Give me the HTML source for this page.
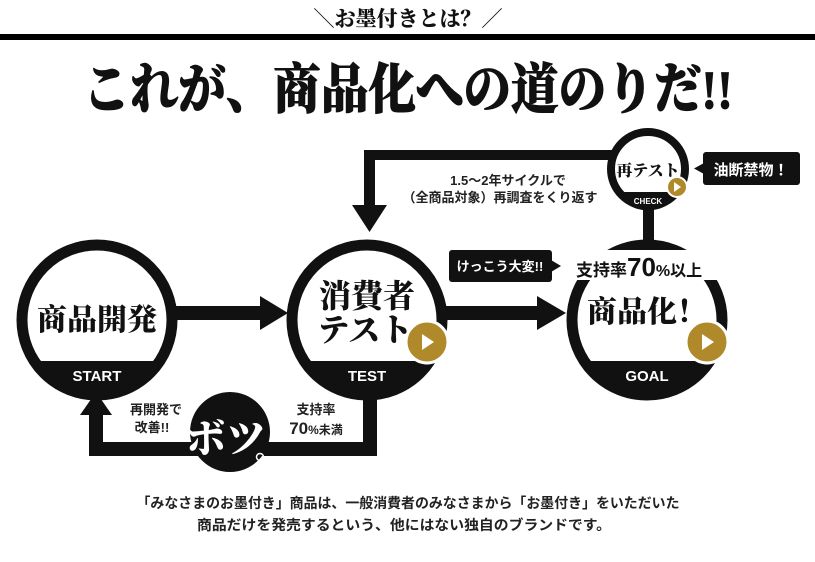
<!DOCTYPE html>
<html><head><meta charset="utf-8"><style>
html,body{margin:0;padding:0;background:#fff;}
svg{display:block}
.g{font-family:"Liberation Sans","Noto Sans CJK JP",sans-serif;font-weight:bold}
.s{font-family:"Liberation Serif","Noto Serif CJK SC",serif;font-weight:900}
</style></head><body>
<svg width="815" height="562" viewBox="0 0 815 562" xmlns="http://www.w3.org/2000/svg">
<rect width="815" height="562" fill="#fff"/>
<text x="408" y="26" text-anchor="middle" class="s" font-size="21" fill="#111">＼お墨付きとは？／</text>
<rect x="0" y="34" width="815" height="6" fill="#000"/>
<text x="408" y="108" text-anchor="middle" class="s" font-size="54" fill="#111" stroke="#111" stroke-width="1" textLength="650" lengthAdjust="spacingAndGlyphs">これが、商品化への道のりだ!!</text>

<rect x="364" y="150" width="250" height="10" fill="#111"/>
<rect x="364" y="150" width="11" height="60" fill="#111"/>
<polygon points="352,205 387,205 369.5,232" fill="#111"/>
<text x="508" y="185" text-anchor="middle" class="g" font-size="13" fill="#222">1.5〜2年サイクルで</text>
<text x="500" y="202" text-anchor="middle" class="g" font-size="13" fill="#222">（全商品対象）再調査をくり返す</text>

<rect x="643" y="205" width="11" height="35" fill="#111"/>
<circle cx="648" cy="169" r="37" fill="#fff" stroke="#111" stroke-width="8"/>
<path d="M616,192 A37,37 0 0 0 680,192 Z" fill="#111"/>
<text x="648" y="176" text-anchor="middle" class="s" font-size="16" fill="#111">再テスト</text>
<text x="648" y="204" text-anchor="middle" class="g" font-size="8" fill="#fff">CHECK</text>
<circle cx="677" cy="187" r="10" fill="#b08a2a" stroke="#fff" stroke-width="2"/>
<polygon points="674,182 674,192 681,187" fill="#fff"/>
<rect x="703" y="152" width="97" height="33" rx="3" fill="#111"/>
<polygon points="704,163 694,168.5 704,174" fill="#111"/>
<text x="751" y="175" text-anchor="middle" class="g" font-size="15" fill="#fff">油断禁物！</text>

<rect x="170" y="306" width="95" height="14" fill="#111"/>
<polygon points="260,296 288,313 260,330" fill="#111"/>
<rect x="440" y="306" width="102" height="14" fill="#111"/>
<polygon points="537,296 566,313 537,330" fill="#111"/>

<rect x="363" y="380" width="14" height="76" fill="#111"/>
<rect x="89" y="442" width="288" height="14" fill="#111"/>
<rect x="89" y="412" width="14" height="44" fill="#111"/>
<polygon points="80,415 112,415 96,392" fill="#111"/>
<circle cx="230" cy="432" r="40" fill="#111"/>
<text x="226" y="452" text-anchor="middle" class="s" font-size="40" fill="#fff">ボツ</text>
<circle cx="260" cy="457" r="3.5" fill="none" stroke="#fff" stroke-width="1.5"/>
<text x="156" y="414" text-anchor="middle" class="g" font-size="13" fill="#222">再開発で</text>
<text x="152" y="432" text-anchor="middle" class="g" font-size="13" fill="#222">改善!!</text>
<text x="316" y="414" text-anchor="middle" class="g" font-size="13" fill="#222">支持率</text>
<text x="316" y="434" text-anchor="middle" class="g" font-size="17" fill="#222">70<tspan font-size="12">%未満</tspan></text>

<circle cx="97" cy="320" r="75" fill="#fff" stroke="#111" stroke-width="11"/>
<path d="M37,361 A73,73 0 0 0 157,361 Z" fill="#111"/>
<text x="97" y="330" text-anchor="middle" class="s" font-size="30" fill="#111">商品開発</text>
<text x="97" y="381" text-anchor="middle" class="g" font-size="15" fill="#fff">START</text>

<circle cx="367" cy="320" r="75" fill="#fff" stroke="#111" stroke-width="11"/>
<path d="M307,361 A73,73 0 0 0 427,361 Z" fill="#111"/>
<text x="367" y="307" text-anchor="middle" class="s" font-size="32" fill="#111">消費者</text>
<text x="365" y="341" text-anchor="middle" class="s" font-size="32" fill="#111">テスト</text>
<text x="367" y="381" text-anchor="middle" class="g" font-size="15" fill="#fff">TEST</text>
<circle cx="427" cy="342" r="21" fill="#b08a2a" stroke="#fff" stroke-width="3"/>
<polygon points="422,334 422,350 434,342" fill="#fff"/>

<circle cx="647" cy="320" r="75" fill="#fff" stroke="#111" stroke-width="11"/>
<path d="M587,361 A73,73 0 0 0 707,361 Z" fill="#111"/>
<rect x="570" y="250" width="152" height="30" fill="#fff"/>
<text x="576" y="276" class="g" font-size="17" fill="#111">支持率<tspan font-size="26">70</tspan><tspan font-size="16">%以上</tspan></text>
<text x="647" y="322" text-anchor="middle" class="s" font-size="30" fill="#111">商品化！</text>
<text x="647" y="381" text-anchor="middle" class="g" font-size="15" fill="#fff">GOAL</text>
<circle cx="707" cy="342" r="21" fill="#b08a2a" stroke="#fff" stroke-width="3"/>
<polygon points="702,334 702,350 714,342" fill="#fff"/>

<rect x="449" y="250" width="103" height="32" rx="3" fill="#111"/>
<polygon points="551,260 561,266 551,272" fill="#111"/>
<text x="500" y="271" text-anchor="middle" class="g" font-size="13" fill="#fff">けっこう大変!!</text>

<text x="408" y="508" text-anchor="middle" class="g" font-size="14" fill="#222" textLength="543" lengthAdjust="spacingAndGlyphs">「みなさまのお墨付き」商品は、一般消費者のみなさまから「お墨付き」をいただいた</text>
<text x="404" y="530" text-anchor="middle" class="g" font-size="14" fill="#222" textLength="414" lengthAdjust="spacingAndGlyphs">商品だけを発売するという、他にはない独自のブランドです。</text>
</svg>
</body></html>
